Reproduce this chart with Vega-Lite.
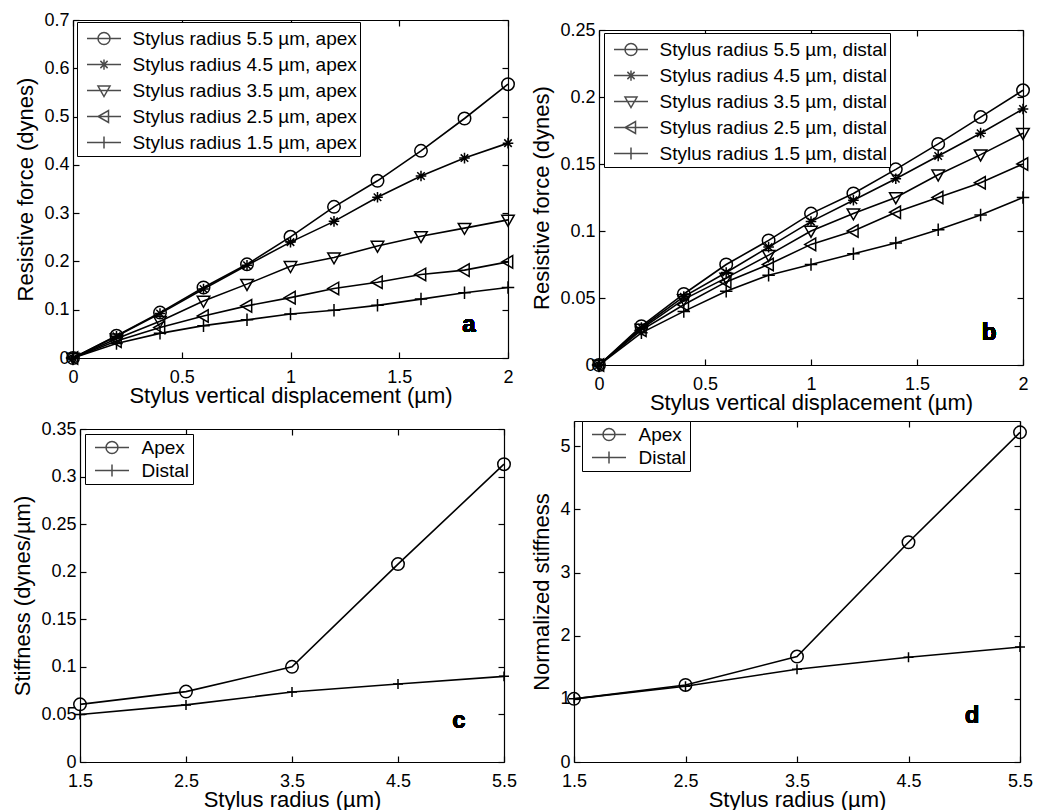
{
  "$schema": "https://vega.github.io/schema/vega-lite/v6.json",
  "background": "white",
  "padding": {"left": 11, "top": 11, "right": 0, "bottom": 0},
  "datasets": {
    "apex": [
      {"x": 0, "y": 0, "s": "Stylus radius 5.5 µm, apex"},
      {"x": 0.2, "y": 0.046, "s": "Stylus radius 5.5 µm, apex"},
      {"x": 0.4, "y": 0.094, "s": "Stylus radius 5.5 µm, apex"},
      {"x": 0.6, "y": 0.146, "s": "Stylus radius 5.5 µm, apex"},
      {"x": 0.8, "y": 0.194, "s": "Stylus radius 5.5 µm, apex"},
      {"x": 1.0, "y": 0.251, "s": "Stylus radius 5.5 µm, apex"},
      {"x": 1.2, "y": 0.313, "s": "Stylus radius 5.5 µm, apex"},
      {"x": 1.4, "y": 0.367, "s": "Stylus radius 5.5 µm, apex"},
      {"x": 1.6, "y": 0.429, "s": "Stylus radius 5.5 µm, apex"},
      {"x": 1.8, "y": 0.496, "s": "Stylus radius 5.5 µm, apex"},
      {"x": 2.0, "y": 0.567, "s": "Stylus radius 5.5 µm, apex"},
      {"x": 0, "y": 0, "s": "Stylus radius 4.5 µm, apex"},
      {"x": 0.2, "y": 0.045, "s": "Stylus radius 4.5 µm, apex"},
      {"x": 0.4, "y": 0.092, "s": "Stylus radius 4.5 µm, apex"},
      {"x": 0.6, "y": 0.143, "s": "Stylus radius 4.5 µm, apex"},
      {"x": 0.8, "y": 0.192, "s": "Stylus radius 4.5 µm, apex"},
      {"x": 1.0, "y": 0.240, "s": "Stylus radius 4.5 µm, apex"},
      {"x": 1.2, "y": 0.283, "s": "Stylus radius 4.5 µm, apex"},
      {"x": 1.4, "y": 0.333, "s": "Stylus radius 4.5 µm, apex"},
      {"x": 1.6, "y": 0.377, "s": "Stylus radius 4.5 µm, apex"},
      {"x": 1.8, "y": 0.414, "s": "Stylus radius 4.5 µm, apex"},
      {"x": 2.0, "y": 0.445, "s": "Stylus radius 4.5 µm, apex"},
      {"x": 0, "y": 0, "s": "Stylus radius 3.5 µm, apex"},
      {"x": 0.2, "y": 0.040, "s": "Stylus radius 3.5 µm, apex"},
      {"x": 0.4, "y": 0.076, "s": "Stylus radius 3.5 µm, apex"},
      {"x": 0.6, "y": 0.118, "s": "Stylus radius 3.5 µm, apex"},
      {"x": 0.8, "y": 0.153, "s": "Stylus radius 3.5 µm, apex"},
      {"x": 1.0, "y": 0.190, "s": "Stylus radius 3.5 µm, apex"},
      {"x": 1.2, "y": 0.208, "s": "Stylus radius 3.5 µm, apex"},
      {"x": 1.4, "y": 0.232, "s": "Stylus radius 3.5 µm, apex"},
      {"x": 1.6, "y": 0.252, "s": "Stylus radius 3.5 µm, apex"},
      {"x": 1.8, "y": 0.269, "s": "Stylus radius 3.5 µm, apex"},
      {"x": 2.0, "y": 0.286, "s": "Stylus radius 3.5 µm, apex"},
      {"x": 0, "y": 0, "s": "Stylus radius 2.5 µm, apex"},
      {"x": 0.2, "y": 0.035, "s": "Stylus radius 2.5 µm, apex"},
      {"x": 0.4, "y": 0.063, "s": "Stylus radius 2.5 µm, apex"},
      {"x": 0.6, "y": 0.087, "s": "Stylus radius 2.5 µm, apex"},
      {"x": 0.8, "y": 0.108, "s": "Stylus radius 2.5 µm, apex"},
      {"x": 1.0, "y": 0.125, "s": "Stylus radius 2.5 µm, apex"},
      {"x": 1.2, "y": 0.144, "s": "Stylus radius 2.5 µm, apex"},
      {"x": 1.4, "y": 0.157, "s": "Stylus radius 2.5 µm, apex"},
      {"x": 1.6, "y": 0.173, "s": "Stylus radius 2.5 µm, apex"},
      {"x": 1.8, "y": 0.182, "s": "Stylus radius 2.5 µm, apex"},
      {"x": 2.0, "y": 0.199, "s": "Stylus radius 2.5 µm, apex"},
      {"x": 0, "y": 0, "s": "Stylus radius 1.5 µm, apex"},
      {"x": 0.2, "y": 0.030, "s": "Stylus radius 1.5 µm, apex"},
      {"x": 0.4, "y": 0.051, "s": "Stylus radius 1.5 µm, apex"},
      {"x": 0.6, "y": 0.067, "s": "Stylus radius 1.5 µm, apex"},
      {"x": 0.8, "y": 0.079, "s": "Stylus radius 1.5 µm, apex"},
      {"x": 1.0, "y": 0.091, "s": "Stylus radius 1.5 µm, apex"},
      {"x": 1.2, "y": 0.099, "s": "Stylus radius 1.5 µm, apex"},
      {"x": 1.4, "y": 0.109, "s": "Stylus radius 1.5 µm, apex"},
      {"x": 1.6, "y": 0.122, "s": "Stylus radius 1.5 µm, apex"},
      {"x": 1.8, "y": 0.135, "s": "Stylus radius 1.5 µm, apex"},
      {"x": 2.0, "y": 0.146, "s": "Stylus radius 1.5 µm, apex"}
    ],
    "distal": [
      {"x": 0, "y": 0, "s": "Stylus radius 5.5 µm, distal"},
      {"x": 0.2, "y": 0.029, "s": "Stylus radius 5.5 µm, distal"},
      {"x": 0.4, "y": 0.053, "s": "Stylus radius 5.5 µm, distal"},
      {"x": 0.6, "y": 0.075, "s": "Stylus radius 5.5 µm, distal"},
      {"x": 0.8, "y": 0.093, "s": "Stylus radius 5.5 µm, distal"},
      {"x": 1.0, "y": 0.113, "s": "Stylus radius 5.5 µm, distal"},
      {"x": 1.2, "y": 0.128, "s": "Stylus radius 5.5 µm, distal"},
      {"x": 1.4, "y": 0.146, "s": "Stylus radius 5.5 µm, distal"},
      {"x": 1.6, "y": 0.165, "s": "Stylus radius 5.5 µm, distal"},
      {"x": 1.8, "y": 0.185, "s": "Stylus radius 5.5 µm, distal"},
      {"x": 2.0, "y": 0.205, "s": "Stylus radius 5.5 µm, distal"},
      {"x": 0, "y": 0, "s": "Stylus radius 4.5 µm, distal"},
      {"x": 0.2, "y": 0.028, "s": "Stylus radius 4.5 µm, distal"},
      {"x": 0.4, "y": 0.051, "s": "Stylus radius 4.5 µm, distal"},
      {"x": 0.6, "y": 0.069, "s": "Stylus radius 4.5 µm, distal"},
      {"x": 0.8, "y": 0.088, "s": "Stylus radius 4.5 µm, distal"},
      {"x": 1.0, "y": 0.107, "s": "Stylus radius 4.5 µm, distal"},
      {"x": 1.2, "y": 0.123, "s": "Stylus radius 4.5 µm, distal"},
      {"x": 1.4, "y": 0.139, "s": "Stylus radius 4.5 µm, distal"},
      {"x": 1.6, "y": 0.156, "s": "Stylus radius 4.5 µm, distal"},
      {"x": 1.8, "y": 0.173, "s": "Stylus radius 4.5 µm, distal"},
      {"x": 2.0, "y": 0.191, "s": "Stylus radius 4.5 µm, distal"},
      {"x": 0, "y": 0, "s": "Stylus radius 3.5 µm, distal"},
      {"x": 0.2, "y": 0.027, "s": "Stylus radius 3.5 µm, distal"},
      {"x": 0.4, "y": 0.049, "s": "Stylus radius 3.5 µm, distal"},
      {"x": 0.6, "y": 0.065, "s": "Stylus radius 3.5 µm, distal"},
      {"x": 0.8, "y": 0.082, "s": "Stylus radius 3.5 µm, distal"},
      {"x": 1.0, "y": 0.100, "s": "Stylus radius 3.5 µm, distal"},
      {"x": 1.2, "y": 0.113, "s": "Stylus radius 3.5 µm, distal"},
      {"x": 1.4, "y": 0.125, "s": "Stylus radius 3.5 µm, distal"},
      {"x": 1.6, "y": 0.142, "s": "Stylus radius 3.5 µm, distal"},
      {"x": 1.8, "y": 0.157, "s": "Stylus radius 3.5 µm, distal"},
      {"x": 2.0, "y": 0.173, "s": "Stylus radius 3.5 µm, distal"},
      {"x": 0, "y": 0, "s": "Stylus radius 2.5 µm, distal"},
      {"x": 0.2, "y": 0.026, "s": "Stylus radius 2.5 µm, distal"},
      {"x": 0.4, "y": 0.045, "s": "Stylus radius 2.5 µm, distal"},
      {"x": 0.6, "y": 0.062, "s": "Stylus radius 2.5 µm, distal"},
      {"x": 0.8, "y": 0.075, "s": "Stylus radius 2.5 µm, distal"},
      {"x": 1.0, "y": 0.090, "s": "Stylus radius 2.5 µm, distal"},
      {"x": 1.2, "y": 0.100, "s": "Stylus radius 2.5 µm, distal"},
      {"x": 1.4, "y": 0.114, "s": "Stylus radius 2.5 µm, distal"},
      {"x": 1.6, "y": 0.125, "s": "Stylus radius 2.5 µm, distal"},
      {"x": 1.8, "y": 0.136, "s": "Stylus radius 2.5 µm, distal"},
      {"x": 2.0, "y": 0.150, "s": "Stylus radius 2.5 µm, distal"},
      {"x": 0, "y": 0, "s": "Stylus radius 1.5 µm, distal"},
      {"x": 0.2, "y": 0.024, "s": "Stylus radius 1.5 µm, distal"},
      {"x": 0.4, "y": 0.040, "s": "Stylus radius 1.5 µm, distal"},
      {"x": 0.6, "y": 0.055, "s": "Stylus radius 1.5 µm, distal"},
      {"x": 0.8, "y": 0.067, "s": "Stylus radius 1.5 µm, distal"},
      {"x": 1.0, "y": 0.075, "s": "Stylus radius 1.5 µm, distal"},
      {"x": 1.2, "y": 0.083, "s": "Stylus radius 1.5 µm, distal"},
      {"x": 1.4, "y": 0.091, "s": "Stylus radius 1.5 µm, distal"},
      {"x": 1.6, "y": 0.101, "s": "Stylus radius 1.5 µm, distal"},
      {"x": 1.8, "y": 0.112, "s": "Stylus radius 1.5 µm, distal"},
      {"x": 2.0, "y": 0.125, "s": "Stylus radius 1.5 µm, distal"}
    ],
    "stiff": [
      {"x": 1.5, "y": 0.0606, "s": "Apex"},
      {"x": 2.5, "y": 0.074, "s": "Apex"},
      {"x": 3.5, "y": 0.100, "s": "Apex"},
      {"x": 4.5, "y": 0.208, "s": "Apex"},
      {"x": 5.5, "y": 0.313, "s": "Apex"},
      {"x": 1.5, "y": 0.050, "s": "Distal"},
      {"x": 2.5, "y": 0.060, "s": "Distal"},
      {"x": 3.5, "y": 0.0735, "s": "Distal"},
      {"x": 4.5, "y": 0.082, "s": "Distal"},
      {"x": 5.5, "y": 0.090, "s": "Distal"}
    ],
    "norm": [
      {"x": 1.5, "y": 1.0, "s": "Apex"},
      {"x": 2.5, "y": 1.22, "s": "Apex"},
      {"x": 3.5, "y": 1.67, "s": "Apex"},
      {"x": 4.5, "y": 3.48, "s": "Apex"},
      {"x": 5.5, "y": 5.22, "s": "Apex"},
      {"x": 1.5, "y": 1.0, "s": "Distal"},
      {"x": 2.5, "y": 1.2, "s": "Distal"},
      {"x": 3.5, "y": 1.47, "s": "Distal"},
      {"x": 4.5, "y": 1.66, "s": "Distal"},
      {"x": 5.5, "y": 1.82, "s": "Distal"}
    ]
  },
  "concat": [
    {
      "width": 435, "height": 338,
      "data": {"name": "apex"},
      "resolve": {"scale": {"shape": "independent"}, "axis": {"x": "independent", "y": "independent"}},
      "layer": [
        {
          "mark": {"type": "line", "color": "black", "strokeWidth": 1.6},
          "encoding": {
            "x": {"field": "x", "type": "quantitative", "scale": {"domain": [0, 2], "nice": false, "zero": false}, "axis": {"orient": "bottom", "values": [0, 0.5, 1, 1.5, 2], "title": "Stylus vertical displacement (µm)"}},
            "y": {"field": "y", "type": "quantitative", "scale": {"domain": [0, 0.7], "nice": false}, "axis": {"orient": "left", "values": [0, 0.1, 0.2, 0.3, 0.4, 0.5, 0.6, 0.7], "title": "Resistive force (dynes)"}},
            "detail": {"field": "s"}
          }
        },
        {
          "mark": {"type": "point", "filled": false, "stroke": "black", "strokeWidth": 1.5, "size": 156, "opacity": 1},
          "encoding": {
            "x": {"field": "x", "type": "quantitative", "axis": null},
            "y": {"field": "y", "type": "quantitative", "axis": null},
            "shape": {"field": "s", "type": "nominal", "legend": null, "scale": {
              "domain": ["Stylus radius 5.5 µm, apex", "Stylus radius 4.5 µm, apex", "Stylus radius 3.5 µm, apex", "Stylus radius 2.5 µm, apex", "Stylus radius 1.5 µm, apex"],
              "range": ["M-1,0A1,1,0,1,0,1,0A1,1,0,1,0,-1,0Z", "M-0.85,0L0.85,0M0,-0.85L0,0.85M-0.6,-0.6L0.6,0.6M-0.6,0.6L0.6,-0.6", "M-1,-0.75L1,-0.75L0,1Z", "M0.75,-1L0.75,1L-1,0Z", "M-1,0L1,0M0,-1L0,1"]}}
          }
        },
        {
          "transform": [{"filter": "false"}],
          "mark": {"type": "point", "filled": false, "stroke": "black", "strokeWidth": 1.5},
          "encoding": {
            "x": {"field": "x", "type": "quantitative", "axis": {"orient": "top", "values": [0, 0.5, 1, 1.5, 2], "labels": false, "title": null}},
            "y": {"field": "y", "type": "quantitative", "axis": {"orient": "right", "values": [0, 0.1, 0.2, 0.3, 0.4, 0.5, 0.6, 0.7], "labels": false, "title": null}},
            "shape": {"field": "s", "type": "nominal", "scale": {
              "domain": ["Stylus radius 5.5 µm, apex", "Stylus radius 4.5 µm, apex", "Stylus radius 3.5 µm, apex", "Stylus radius 2.5 µm, apex", "Stylus radius 1.5 µm, apex"],
              "range": ["M-1.36,0L1.36,0M-0.48,0A0.48,0.48,0,1,0,0.48,0A0.48,0.48,0,1,0,-0.48,0", "M-1.36,0L1.36,0M0,-0.41L0,0.41M-0.29,-0.29L0.29,0.29M-0.29,0.29L0.29,-0.29", "M-1.36,0L1.36,0M-0.48,-0.36L0.48,-0.36L0,0.48Z", "M-1.36,0L1.36,0M0.36,-0.48L0.36,0.48L-0.48,0Z", "M-1.36,0L1.36,0M0,-0.48L0,0.48"]},
              "legend": {"title": null, "orient": "none", "legendX": 4, "legendY": 2, "padding": 3, "symbolSize": 625, "symbolOffset": 10.5, "labelOffset": 15, "strokeColor": "black", "fillColor": "white"}}
          }
        },
        {
          "mark": {"type": "text", "text": "a", "fontSize": 24, "fontWeight": "bold", "align": "center", "baseline": "middle", "fill": "black"},
          "encoding": {
            "x": {"datum": 1.82, "type": "quantitative", "axis": null},
            "y": {"datum": 0.068, "type": "quantitative", "axis": null}
          }
        }
      ]
    },
    {
      "width": 424, "height": 345,
      "data": {"name": "distal"},
      "resolve": {"scale": {"shape": "independent"}, "axis": {"x": "independent", "y": "independent"}},
      "layer": [
        {
          "mark": {"type": "line", "color": "black", "strokeWidth": 1.6},
          "encoding": {
            "x": {"field": "x", "type": "quantitative", "scale": {"domain": [0, 2], "nice": false, "zero": false}, "axis": {"orient": "bottom", "values": [0, 0.5, 1, 1.5, 2], "title": "Stylus vertical displacement (µm)"}},
            "y": {"field": "y", "type": "quantitative", "scale": {"domain": [0, 0.25], "range": [345, 10], "nice": false}, "axis": {"orient": "left", "values": [0, 0.05, 0.1, 0.15, 0.2, 0.25], "title": "Resistive force (dynes)"}},
            "detail": {"field": "s"}
          }
        },
        {
          "mark": {"type": "point", "filled": false, "stroke": "black", "strokeWidth": 1.5, "size": 156, "opacity": 1},
          "encoding": {
            "x": {"field": "x", "type": "quantitative", "axis": null},
            "y": {"field": "y", "type": "quantitative", "axis": null},
            "shape": {"field": "s", "type": "nominal", "legend": null, "scale": {
              "domain": ["Stylus radius 5.5 µm, distal", "Stylus radius 4.5 µm, distal", "Stylus radius 3.5 µm, distal", "Stylus radius 2.5 µm, distal", "Stylus radius 1.5 µm, distal"],
              "range": ["M-1,0A1,1,0,1,0,1,0A1,1,0,1,0,-1,0Z", "M-0.85,0L0.85,0M0,-0.85L0,0.85M-0.6,-0.6L0.6,0.6M-0.6,0.6L0.6,-0.6", "M-1,-0.75L1,-0.75L0,1Z", "M0.75,-1L0.75,1L-1,0Z", "M-1,0L1,0M0,-1L0,1"]}}
          }
        },
        {
          "transform": [{"filter": "false"}],
          "mark": {"type": "point", "filled": false, "stroke": "black", "strokeWidth": 1.5},
          "encoding": {
            "x": {"field": "x", "type": "quantitative", "axis": {"orient": "top", "offset": -10, "values": [0, 0.5, 1, 1.5, 2], "labels": false, "title": null}},
            "y": {"field": "y", "type": "quantitative", "axis": {"orient": "right", "values": [0, 0.05, 0.1, 0.15, 0.2, 0.25], "labels": false, "title": null}},
            "shape": {"field": "s", "type": "nominal", "scale": {
              "domain": ["Stylus radius 5.5 µm, distal", "Stylus radius 4.5 µm, distal", "Stylus radius 3.5 µm, distal", "Stylus radius 2.5 µm, distal", "Stylus radius 1.5 µm, distal"],
              "range": ["M-1.36,0L1.36,0M-0.48,0A0.48,0.48,0,1,0,0.48,0A0.48,0.48,0,1,0,-0.48,0", "M-1.36,0L1.36,0M0,-0.41L0,0.41M-0.29,-0.29L0.29,0.29M-0.29,0.29L0.29,-0.29", "M-1.36,0L1.36,0M-0.48,-0.36L0.48,-0.36L0,0.48Z", "M-1.36,0L1.36,0M0.36,-0.48L0.36,0.48L-0.48,0Z", "M-1.36,0L1.36,0M0,-0.48L0,0.48"]},
              "legend": {"title": null, "orient": "none", "legendX": 5, "legendY": 13, "padding": 3, "symbolSize": 625, "symbolOffset": 10.5, "labelOffset": 15, "strokeColor": "black", "fillColor": "white"}}
          }
        },
        {
          "mark": {"type": "text", "text": "b", "fontSize": 24, "fontWeight": "bold", "align": "center", "baseline": "middle", "fill": "black"},
          "encoding": {
            "x": {"datum": 1.84, "type": "quantitative", "axis": null},
            "y": {"datum": 0.024, "type": "quantitative", "axis": null}
          }
        }
      ]
    },
    {
      "width": 431, "height": 341,
      "data": {"name": "stiff"},
      "resolve": {"scale": {"shape": "independent"}, "axis": {"x": "independent", "y": "independent"}},
      "layer": [
        {
          "mark": {"type": "line", "color": "black", "strokeWidth": 1.6},
          "encoding": {
            "x": {"field": "x", "type": "quantitative", "scale": {"domain": [1.5, 5.5], "range": [7, 431], "nice": false, "zero": false}, "axis": {"orient": "bottom", "values": [1.5, 2.5, 3.5, 4.5, 5.5], "title": "Stylus radius (µm)"}},
            "y": {"field": "y", "type": "quantitative", "scale": {"domain": [0, 0.35], "range": [341, 8], "nice": false}, "axis": {"orient": "left", "offset": -7, "values": [0, 0.05, 0.1, 0.15, 0.2, 0.25, 0.3, 0.35], "title": "Stiffness (dynes/µm)"}},
            "detail": {"field": "s"}
          }
        },
        {
          "mark": {"type": "point", "filled": false, "stroke": "black", "strokeWidth": 1.5, "size": 156, "opacity": 1},
          "encoding": {
            "x": {"field": "x", "type": "quantitative", "axis": null},
            "y": {"field": "y", "type": "quantitative", "axis": null},
            "shape": {"field": "s", "type": "nominal", "legend": null, "scale": {
              "domain": ["Apex", "Distal"],
              "range": ["M-1,0A1,1,0,1,0,1,0A1,1,0,1,0,-1,0Z", "M-0.8,0L0.8,0M0,-0.8L0,0.8"]}}
          }
        },
        {
          "transform": [{"filter": "false"}],
          "mark": {"type": "point", "filled": false, "stroke": "black", "strokeWidth": 1.5},
          "encoding": {
            "x": {"field": "x", "type": "quantitative", "axis": {"orient": "top", "offset": -8, "values": [1.5, 2.5, 3.5, 4.5, 5.5], "labels": false, "title": null}},
            "y": {"field": "y", "type": "quantitative", "axis": {"orient": "right", "values": [0, 0.05, 0.1, 0.15, 0.2, 0.25, 0.3, 0.35], "labels": false, "title": null}},
            "shape": {"field": "s", "type": "nominal", "scale": {
              "domain": ["Apex", "Distal"],
              "range": ["M-1.79,0L1.79,0M-0.63,0A0.63,0.63,0,1,0,0.63,0A0.63,0.63,0,1,0,-0.63,0", "M-1.79,0L1.79,0M0,-0.63L0,0.63"]},
              "legend": {"title": null, "orient": "none", "legendX": 12, "legendY": 13, "padding": 3, "symbolSize": 361, "symbolOffset": 13.5, "labelOffset": 19, "strokeColor": "black", "fillColor": "white"}}
          }
        },
        {
          "mark": {"type": "text", "text": "c", "fontSize": 24, "fontWeight": "bold", "align": "center", "baseline": "middle", "fill": "black"},
          "encoding": {
            "x": {"datum": 5.075, "type": "quantitative", "axis": null},
            "y": {"datum": 0.043, "type": "quantitative", "axis": null}
          }
        }
      ]
    },
    {
      "width": 446, "height": 341,
      "data": {"name": "norm"},
      "resolve": {"scale": {"shape": "independent"}, "axis": {"x": "independent", "y": "independent"}},
      "layer": [
        {
          "mark": {"type": "line", "color": "black", "strokeWidth": 1.6},
          "encoding": {
            "x": {"field": "x", "type": "quantitative", "scale": {"domain": [1.5, 5.5], "nice": false, "zero": false}, "axis": {"orient": "bottom", "values": [1.5, 2.5, 3.5, 4.5, 5.5], "title": "Stylus radius (µm)"}},
            "y": {"field": "y", "type": "quantitative", "scale": {"domain": [0, 5.4], "nice": false}, "axis": {"orient": "left", "values": [0, 1, 2, 3, 4, 5], "title": "Normalized stiffness"}},
            "detail": {"field": "s"}
          }
        },
        {
          "mark": {"type": "point", "filled": false, "stroke": "black", "strokeWidth": 1.5, "size": 156, "opacity": 1},
          "encoding": {
            "x": {"field": "x", "type": "quantitative", "axis": null},
            "y": {"field": "y", "type": "quantitative", "axis": null},
            "shape": {"field": "s", "type": "nominal", "legend": null, "scale": {
              "domain": ["Apex", "Distal"],
              "range": ["M-1,0A1,1,0,1,0,1,0A1,1,0,1,0,-1,0Z", "M-0.8,0L0.8,0M0,-0.8L0,0.8"]}}
          }
        },
        {
          "transform": [{"filter": "false"}],
          "mark": {"type": "point", "filled": false, "stroke": "black", "strokeWidth": 1.5},
          "encoding": {
            "x": {"field": "x", "type": "quantitative", "axis": {"orient": "top", "values": [1.5, 2.5, 3.5, 4.5, 5.5], "labels": false, "title": null}},
            "y": {"field": "y", "type": "quantitative", "axis": {"orient": "right", "values": [0, 1, 2, 3, 4, 5], "labels": false, "title": null}},
            "shape": {"field": "s", "type": "nominal", "scale": {
              "domain": ["Apex", "Distal"],
              "range": ["M-1.79,0L1.79,0M-0.63,0A0.63,0.63,0,1,0,0.63,0A0.63,0.63,0,1,0,-0.63,0", "M-1.79,0L1.79,0M0,-0.63L0,0.63"]},
              "legend": {"title": null, "orient": "none", "legendX": 8, "legendY": 0, "padding": 3, "symbolSize": 361, "symbolOffset": 13.5, "labelOffset": 19, "strokeColor": "black", "fillColor": "white"}}
          }
        },
        {
          "mark": {"type": "text", "text": "d", "fontSize": 24, "fontWeight": "bold", "align": "center", "baseline": "middle", "fill": "black"},
          "encoding": {
            "x": {"datum": 5.07, "type": "quantitative", "axis": null},
            "y": {"datum": 0.73, "type": "quantitative", "axis": null}
          }
        }
      ]
    }
  ],
  "columns": 2,
  "align": "none",
  "spacing": {"row": 7, "column": 12},
  "config": {
    "font": "Liberation Sans",
    "view": {"stroke": null},
    "axis": {
      "domain": true, "domainColor": "black", "domainWidth": 1.2, "grid": false, "tickSize": -6, "tickColor": "black", "tickWidth": 1.2,
      "labelFontSize": 18, "labelColor": "black", "labelOverlap": false, "labelBound": false, "labelFlush": false,
      "titleFontSize": 22, "titleFontWeight": "normal", "titleColor": "black", "format": ".3~g"
    },
    "axisX": {"labelPadding": 16, "titlePadding": -1},
    "axisY": {"labelPadding": 10, "titlePadding": 6},
    "legend": {"labelFontSize": 19, "labelColor": "black", "labelLimit": 400, "symbolStrokeColor": "black", "symbolStrokeWidth": 1.5}
  }
}
